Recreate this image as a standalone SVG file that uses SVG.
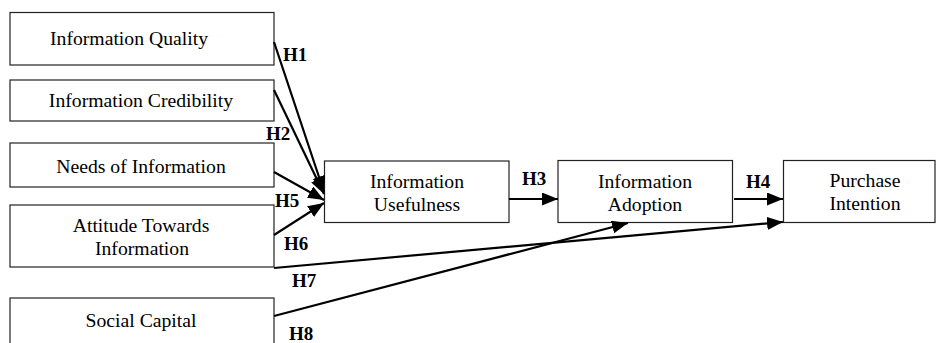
<svg xmlns="http://www.w3.org/2000/svg" width="936" height="343" viewBox="0 0 936 343">
<defs>
<style>
.box{fill:#fff;stroke:#222;stroke-width:1.2}
.t{font-family:"Liberation Serif","Times New Roman",serif;font-size:19.7px;fill:#000;text-anchor:middle}
.h{font-family:"Liberation Serif","Times New Roman",serif;font-size:19px;font-weight:bold;fill:#000}
.c{stroke:#000;stroke-width:2.2;fill:none;marker-end:url(#ah)}
</style>
<marker id="ah" markerUnits="userSpaceOnUse" markerWidth="18" markerHeight="14" refX="16" refY="6.5" orient="auto">
<path d="M0,0 L16,6.5 L0,13 Z" fill="#000"/>
</marker>
</defs>
<rect width="936" height="343" fill="#fff"/>
<g id="n-quality"><rect class="box" x="10" y="12.5" width="264" height="52.5"/><text class="t" x="129" y="45">Information Quality</text></g>
<g id="n-credibility"><rect class="box" x="10" y="80" width="264" height="41"/><text class="t" x="141" y="107">Information Credibility</text></g>
<g id="n-needs"><rect class="box" x="10" y="143" width="264" height="44"/><text class="t" x="141" y="173">Needs of Information</text></g>
<g id="n-attitude"><rect class="box" x="10" y="205" width="264" height="62"/><text class="t" x="141" y="232">Attitude Towards</text><text class="t" x="142" y="255">Information</text></g>
<g id="n-social"><rect class="box" x="10" y="298" width="264" height="60"/><text class="t" x="141" y="327">Social Capital</text></g>
<g id="n-usefulness"><rect class="box" x="324.5" y="161" width="184.5" height="61.5"/><text class="t" x="417" y="188">Information</text><text class="t" x="417" y="211">Usefulness</text></g>
<g id="n-adoption"><rect class="box" x="558" y="160.5" width="174.5" height="62"/><text class="t" x="645" y="188">Information</text><text class="t" x="645" y="211">Adoption</text></g>
<g id="n-purchase"><rect class="box" x="783.5" y="160.5" width="151.5" height="62"/><text class="t" x="865" y="187">Purchase</text><text class="t" x="865" y="210">Intention</text></g>
<g id="connectors">
<line class="c" x1="274" y1="42" x2="324" y2="192"/>
<line class="c" x1="274" y1="90" x2="324" y2="194"/>
<line class="c" x1="274" y1="172" x2="324" y2="200"/>
<line class="c" x1="274" y1="235" x2="324" y2="203"/>
<line class="c" x1="509" y1="199" x2="558" y2="199"/>
<line class="c" x1="734" y1="199" x2="783" y2="199"/>
<line class="c" x1="274" y1="268" x2="783" y2="222"/>
<line class="c" x1="274" y1="316" x2="628" y2="223"/>
</g>
<g id="labels">
<text class="h" x="283" y="61">H1</text>
<text class="h" x="266" y="140">H2</text>
<text class="h" x="275" y="207">H5</text>
<text class="h" x="284" y="250">H6</text>
<text class="h" x="292" y="287">H7</text>
<text class="h" x="289" y="340">H8</text>
<text class="h" x="522" y="185">H3</text>
<text class="h" x="746" y="188">H4</text>
</g>
</svg>
